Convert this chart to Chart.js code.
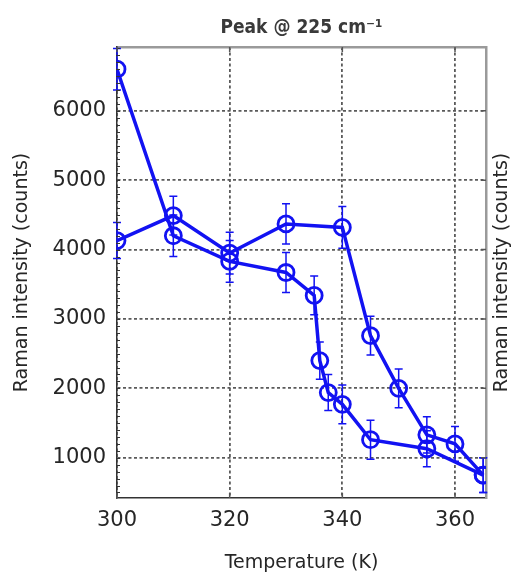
<!DOCTYPE html>
<html>
<head>
<meta charset="utf-8">
<script src="https://cdn.jsdelivr.net/npm/chart.js@4.4.1/dist/chart.umd.min.js"></script>
<style>
  html, body { margin: 0; padding: 0; background: #ffffff; }
  #wrap { width: 511px; height: 574px; }
</style>
</head>
<body>
<div id="wrap"><canvas id="c" width="511" height="574"></canvas></div>
<script>
// Raman peak intensity at 225 cm-1 versus temperature, heating and cooling runs
const heatingTemp   = [300, 310, 320, 330, 340, 345, 350, 355, 360, 365];
const heatingCounts = [4130, 4490, 3950, 4370, 4320, 2760, 2000, 1330, 1200, 750];
const heatingErr    = [260, 280, 300, 290, 300, 280, 280, 260, 250, 250];

const coolingTemp   = [365, 355, 345, 340, 337.5, 336, 335, 330, 320, 310, 300];
const coolingCounts = [750, 1130, 1260, 1770, 1940, 2400, 3340, 3670, 3830, 4200, 6600];
const coolingErr    = [250, 260, 280, 280, 260, 270, 280, 290, 300, 300, 300];

const xTicks = [300, 320, 340, 360];
const yTicks = [1000, 2000, 3000, 4000, 5000, 6000];

const titleText = 'Peak @ 225 cm⁻¹';
const xTitle = 'Temperature (K)';
const yTitle = 'Raman intensity (counts)';

const BLUE = '#1212f2';
const TEXT = '#262626';
const FAMILY = "'DejaVu Sans', 'Liberation Sans', sans-serif";

const toPoints = (t, c) => t.map((x, i) => ({ x: x, y: c[i] }));

function lineSet(t, c, err) {
  return {
    data: toPoints(t, c),
    errors: err,
    showLine: true,
    tension: 0,
    borderColor: BLUE,
    borderWidth: 3.5,
    pointRadius: 8,
    pointBorderWidth: 2.8,
    pointBorderColor: BLUE,
    pointBackgroundColor: 'rgba(0,0,0,0)'
  };
}

// error bars, frame tick marks and the mirrored axis title
const decor = {
  id: 'decor',
  beforeDatasetsDraw(chart) {
    const ctx = chart.ctx;
    const xs = chart.scales.x, ys = chart.scales.y;
    ctx.save();
    ctx.strokeStyle = BLUE;
    ctx.lineWidth = 1.5;
    chart.data.datasets.forEach(ds => {
      ds.data.forEach((p, i) => {
        const e = ds.errors[i];
        const px = xs.getPixelForValue(p.x);
        const y1 = ys.getPixelForValue(p.y - e);
        const y2 = ys.getPixelForValue(p.y + e);
        ctx.beginPath();
        ctx.moveTo(px, y1); ctx.lineTo(px, y2);
        ctx.moveTo(px - 4, y1); ctx.lineTo(px + 4, y1);
        ctx.moveTo(px - 4, y2); ctx.lineTo(px + 4, y2);
        ctx.stroke();
      });
    });
    ctx.restore();
  },
  afterDraw(chart) {
    const ctx = chart.ctx;
    const a = chart.chartArea;
    const xs = chart.scales.x, ys = chart.scales.y;
    ctx.save();
    // minor ticks along the left axis
    ctx.strokeStyle = '#333';
    ctx.lineWidth = 1;
    ctx.beginPath();
    for (let v = 500; v <= 6900; v += 100) {
      const py = Math.round(ys.getPixelForValue(v)) + 0.5;
      ctx.moveTo(a.left - 1, py);
      ctx.lineTo(a.left + 3, py);
    }
    ctx.stroke();
    // major ticks on right, top and bottom edges
    ctx.strokeStyle = '#555';
    ctx.lineWidth = 1.5;
    ctx.beginPath();
    yTicks.forEach(v => {
      const py = ys.getPixelForValue(v);
      ctx.moveTo(a.right, py); ctx.lineTo(a.right - 5, py);
    });
    xTicks.forEach(v => {
      const px = xs.getPixelForValue(v);
      ctx.moveTo(px, a.top); ctx.lineTo(px, a.top + 5);
      ctx.moveTo(px, a.bottom); ctx.lineTo(px, a.bottom - 5);
    });
    ctx.stroke();
    // axis title repeated on the right side
    ctx.fillStyle = TEXT;
    ctx.font = '19px ' + FAMILY;
    ctx.textAlign = 'center';
    ctx.textBaseline = 'middle';
    ctx.translate(502, (a.top + a.bottom) / 2);
    ctx.rotate(-Math.PI / 2);
    ctx.fillText(yTitle, 0, 0);
    ctx.restore();
  }
};

const tickFont = { family: FAMILY, size: 21 };
const titleFont = { family: FAMILY, size: 19 };

new Chart(document.getElementById('c'), {
  type: 'scatter',
  data: {
    datasets: [
      lineSet(heatingTemp, heatingCounts, heatingErr),
      lineSet(coolingTemp, coolingCounts, coolingErr)
    ]
  },
  options: {
    responsive: false,
    animation: false,
    devicePixelRatio: 1,
    layout: { padding: 0 },
    plugins: { legend: { display: false }, tooltip: { enabled: false }, title: { display: false } },
    scales: {
      x: {
        type: 'linear', position: 'bottom', min: 300, max: 365.5,
        afterBuildTicks: s => { s.ticks = xTicks.map(v => ({ value: v })); },
        afterFit: s => { s.height = 76; },
        ticks: { font: tickFont, color: TEXT, padding: 10, maxRotation: 0, callback: v => String(v) },
        grid: { color: '#5a5a5a', lineWidth: 1.8, drawTicks: false },
        border: { display: true, color: '#333', width: 1.5, dash: [3, 2.5] },
        title: { display: true, text: xTitle, font: titleFont, color: TEXT, padding: { top: 3, bottom: 0 } }
      },
      xTop: {
        type: 'linear', position: 'top', min: 300, max: 365.5,
        afterFit: s => { s.height = 47; },
        ticks: { display: false },
        grid: { display: false, drawTicks: false },
        border: { display: true, color: '#9a9a9a', width: 2.5 },
        title: { display: true, text: titleText, font: { family: "'DejaVu Sans Condensed', 'DejaVu Sans', sans-serif", size: 19, weight: 'bold' }, color: '#3a3a3a', padding: { top: 17, bottom: 0 } }
      },
      y: {
        type: 'linear', position: 'left', min: 420, max: 6920,
        afterBuildTicks: s => { s.ticks = yTicks.map(v => ({ value: v })); },
        afterFit: s => { s.width = 117; },
        ticks: { font: tickFont, color: TEXT, padding: 11, callback: v => String(v) },
        grid: { color: '#5a5a5a', lineWidth: 1.8, drawTicks: false },
        border: { display: true, color: '#333', width: 1.5, dash: [3, 2.5] },
        title: { display: true, text: yTitle, font: titleFont, color: TEXT, padding: { top: 11, bottom: 0 } }
      },
      yRight: {
        type: 'linear', position: 'right', min: 420, max: 6920,
        afterFit: s => { s.width = 25; },
        ticks: { display: false },
        grid: { display: false, drawTicks: false },
        border: { display: true, color: '#9a9a9a', width: 2.5 }
      }
    }
  },
  plugins: [decor]
});
</script>
</body>
</html>
